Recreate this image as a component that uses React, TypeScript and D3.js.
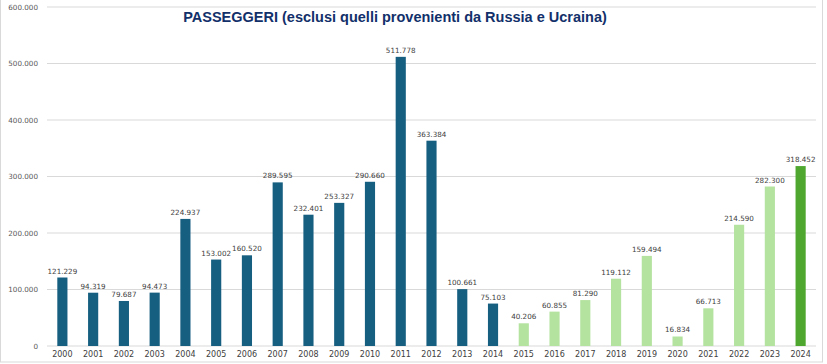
import React, { useRef, useEffect } from 'react'
import * as d3 from 'd3'

// years on the x axis
const years = ['2000', '2001', '2002', '2003', '2004', '2005', '2006', '2007', '2008', '2009', '2010', '2011', '2012',
    '2013', '2014', '2015', '2016', '2017', '2018', '2019', '2020', '2021', '2022', '2023', '2024']
// passengers per year
const passengers = [121229, 94319, 79687, 94473, 224937, 153002, 160520, 289595, 232401, 253327, 290660, 511778, 363384,
    100661, 75103, 40206, 60855, 81290, 119112, 159494, 16834, 66713, 214590, 282300, 318452]
// colour group of each bar: 0 = old series, 1 = post 2015, 2 = current year
const groups = [0, 0, 0, 0, 0, 0, 0, 0, 0, 0, 0, 0, 0, 0, 0, 1, 1, 1, 1, 1, 1, 1, 1, 1, 2]
const yTicks = [0, 100000, 200000, 300000, 400000, 500000, 600000]
const title = 'PASSEGGERI (esclusi quelli provenienti da Russia e Ucraina)'

const colors = ['#175f80', '#b4e3a0', '#4fa72f']
const fmt = (v: number) => d3.format(',')(v).replace(/,/g, '.')

export default function App() {
    const svgEl = useRef<SVGSVGElement>(null)

    useEffect(() => {
        const width = 827
        const height = 364
        const svg = d3.select(svgEl.current)
        svg.selectAll('*').remove()

        svg.append('rect')
            .attr('x', 0.5).attr('y', -1)
            .attr('width', 822).attr('height', 363)
            .attr('fill', '#fff')
            .attr('stroke', '#d9d9d9')

        const x = d3.scaleBand().domain(years).range([47, 816]).paddingInner(0.67).paddingOuter(0.335)
        const y = d3.scaleLinear().domain([0, 600000]).range([346, 7])

        // grid lines + y labels
        const g = svg.append('g')
        g.selectAll('line.grid')
            .data(yTicks)
            .enter()
            .append('line')
            .attr('x1', 47).attr('x2', 816)
            .attr('y1', d => y(d)).attr('y2', d => y(d))
            .attr('stroke', '#d9d9d9')
            .attr('stroke-width', 1)
        g.selectAll('text.ylab')
            .data(yTicks)
            .enter()
            .append('text')
            .attr('x', 38)
            .attr('y', d => y(d) + 2.5)
            .attr('text-anchor', 'end')
            .attr('font-family', 'DejaVu Sans')
            .attr('font-size', 7.2)
            .attr('fill', '#595959')
            .text(d => fmt(d))

        // bars
        svg.selectAll('rect.bar')
            .data(passengers)
            .enter()
            .append('rect')
            .attr('x', (d, i) => x(years[i])!)
            .attr('y', d => y(d))
            .attr('width', x.bandwidth())
            .attr('height', d => y(0) - y(d))
            .attr('fill', (d, i) => colors[groups[i]])

        // value labels
        svg.selectAll('text.val')
            .data(passengers)
            .enter()
            .append('text')
            .attr('x', (d, i) => x(years[i])! + x.bandwidth() / 2)
            .attr('y', d => y(d) - 4)
            .attr('text-anchor', 'middle')
            .attr('font-family', 'DejaVu Sans')
            .attr('font-size', 7.2)
            .attr('fill', '#404040')
            .text(d => fmt(d))

        // x labels
        svg.selectAll('text.xlab')
            .data(years)
            .enter()
            .append('text')
            .attr('x', d => x(d)! + x.bandwidth() / 2)
            .attr('y', 357)
            .attr('text-anchor', 'middle')
            .attr('font-family', 'DejaVu Sans')
            .attr('font-size', 8)
            .attr('fill', '#404040')
            .text(d => d)

        svg.append('text')
            .attr('x', 395)
            .attr('y', 22)
            .attr('text-anchor', 'middle')
            .attr('font-family', 'Liberation Sans, Arial')
            .attr('font-weight', 'bold')
            .attr('font-size', 14.5)
            .attr('fill', '#12306a')
            .text(title)

        svg.attr('width', width).attr('height', height)
    }, [])

    return (
        <div style={{ position: 'absolute', left: 0, top: 0 }}>
            <svg ref={svgEl} width={827} height={364} style={{ display: 'block' }} />
        </div>
    )
}
